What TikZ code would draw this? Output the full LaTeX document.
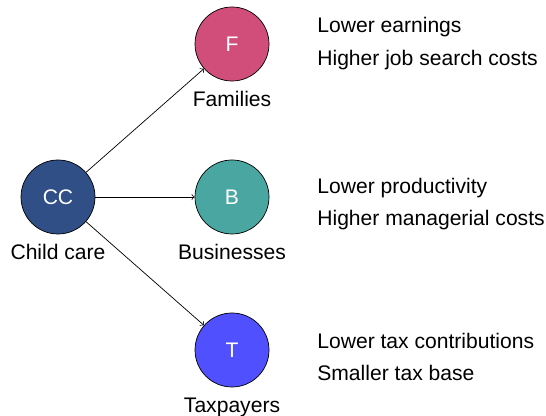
\documentclass[tikz,border=0pt]{standalone}
\usepackage{fontspec}
\setmainfont{Liberation Sans}
\usetikzlibrary{arrows}

\definecolor{ccblue}{RGB}{47,79,134}
\definecolor{fampink}{RGB}{209,78,122}
\definecolor{busteal}{RGB}{74,166,160}
\definecolor{taxblue}{RGB}{80,80,255}

\tikzset{
    actor/.style={circle, draw=black, thin, minimum size=1.48cm, text=white, font=\fontsize{12}{14}\selectfont},
    effect/.style={anchor=west, inner sep=0pt, font=\fontsize{12}{14}\selectfont},
    link/.style={->, >=to, thin}
}

\begin{document}
\begin{tikzpicture}
    \useasboundingbox (0,0) rectangle (10.92,8.32);

    % Source and the three groups it affects
    \node[actor, fill=ccblue, label={[font=\fontsize{12}{14}\selectfont, label distance=0.08cm]below:Child care}] (cc) at (1.16,4.38) {CC};
    \node[actor, fill=fampink, label={[font=\fontsize{12}{14}\selectfont, label distance=0.08cm]below:Families}] (fam) at (4.64,7.44) {F};
    \node[actor, fill=busteal, label={[font=\fontsize{12}{14}\selectfont, label distance=0.08cm]below:Businesses}] (bus) at (4.64,4.38) {B};
    \node[actor, fill=taxblue, label={[font=\fontsize{12}{14}\selectfont, label distance=0.08cm]below:Taxpayers}] (tax) at (4.64,1.32) {T};

    % Arrows
    \draw[link] (cc) -- (fam);
    \draw[link] (cc) -- (bus);
    \draw[link] (cc) -- (tax);

    % Effects on each group
    \node[effect] (fam1) at (6.34,7.78) {Lower earnings};
    \node[effect] (fam2) at (6.34,7.12) {Higher job search costs};
    \node[effect] (bus1) at (6.34,4.56) {Lower productivity};
    \node[effect] (bus2) at (6.34,3.92) {Higher managerial costs};
    \node[effect] (tax1) at (6.34,1.50) {Lower tax contributions};
    \node[effect] (tax2) at (6.34,0.86) {Smaller tax base};
\end{tikzpicture}
\end{document}
